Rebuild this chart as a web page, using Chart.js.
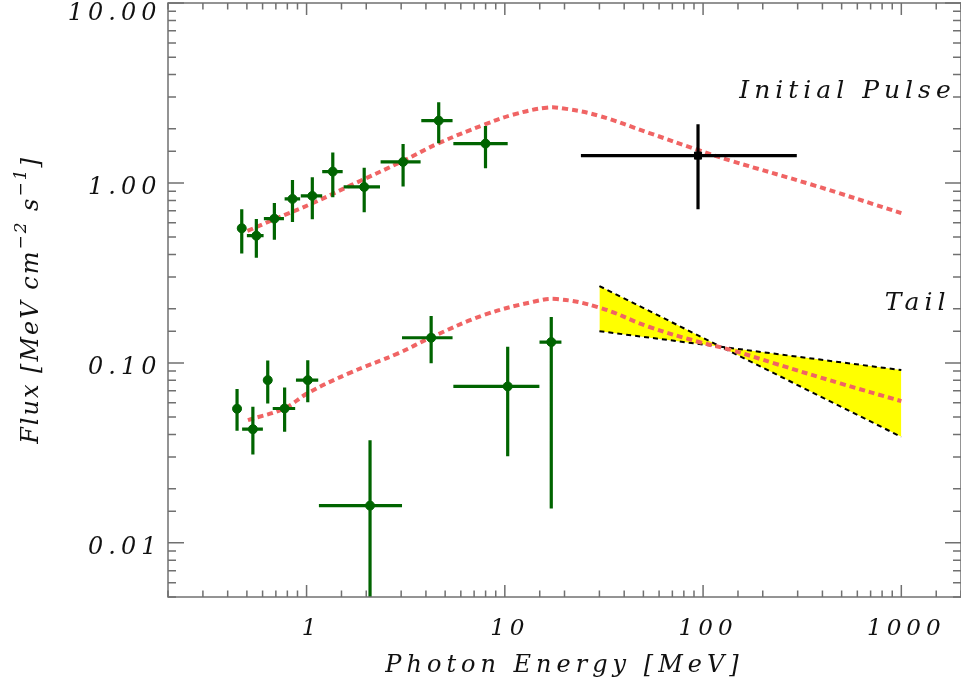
<!DOCTYPE html>
<html>
<head>
<meta charset="utf-8">
<script src="https://cdn.jsdelivr.net/npm/chart.js@4.4.0/dist/chart.umd.min.js"></script>
<style>
  html, body { margin: 0; padding: 0; background: #fff; }
  #wrap { width: 961px; height: 686px; }
</style>
</head>
<body>
<div id="wrap"><canvas id="fluxChart"></canvas></div>
<script>
// initial pulse measurements (green)
const pulseE      = [0.471, 0.558, 0.688, 0.849, 1.069, 1.356, 1.953, 3.068, 4.64, 7.99];
const pulseFlux   = [0.560, 0.509, 0.633, 0.815, 0.847, 1.156, 0.950, 1.309, 2.22, 1.654];
const pulseFluxLo = [0.406, 0.384, 0.484, 0.607, 0.628, 0.833, 0.687, 0.954, 1.663, 1.207];
const pulseFluxHi = [0.714, 0.631, 0.774, 1.039, 1.076, 1.474, 1.216, 1.648, 2.81, 2.075];
const pulseELo    = [null, 0.500, 0.609, 0.775, 0.935, 1.199, 1.538, 2.363, 3.79, 5.50];
const pulseEHi    = [null, 0.607, 0.769, 0.928, 1.199, 1.521, 2.346, 3.76, 5.45, 10.34];

// high energy point of the initial pulse (black)
const hePulseE = [94.3];
const hePulseFlux = [1.419];
const hePulseFluxLo = [0.714];
const hePulseFluxHi = [2.12];
const hePulseELo = [24.2];
const hePulseEHi = [297];

// tail measurements (green)
const tailE      = [0.446, 0.536, 0.637, 0.775, 1.014, 2.09, 4.25, 10.34, 17.15];
const tailFlux   = [0.0556, 0.0428, 0.0802, 0.0558, 0.0802, 0.0161, 0.1379, 0.074, 0.1305];
const tailFluxLo = [0.0419, 0.031, 0.0595, 0.0414, 0.0605, 0.001, 0.0994, 0.0303, 0.0155];
const tailFluxHi = [0.0715, 0.057, 0.103, 0.073, 0.1035, 0.0372, 0.182, 0.123, 0.18];
const tailELo    = [null, 0.473, null, 0.675, 0.884, 1.154, 3.03, 5.50, 14.96];
const tailEHi    = [null, 0.602, null, 0.876, 1.145, 3.03, 5.45, 14.94, 19.3];

// model curves (red dashed)
const pulseModelE    = [0.503, 0.688, 1.065, 1.687, 3.07, 4.64, 7.99, 11.08, 16.24, 20.44, 29.87, 53.1, 94.3, 138.9, 348.5, 1000];
const pulseModelFlux = [0.541, 0.628, 0.769, 0.975, 1.326, 1.663, 2.12, 2.40, 2.62, 2.58, 2.36, 1.90, 1.526, 1.326, 0.983, 0.68];
const tailModelE     = [0.506, 0.772, 1.009, 1.63, 2.896, 4.25, 7.85, 13.94, 18.22, 29.78, 53.25, 94.6, 138.9, 228.6, 492, 1000];
const tailModelFlux  = [0.0481, 0.0558, 0.0677, 0.0874, 0.113, 0.1386, 0.1845, 0.2187, 0.2263, 0.2035, 0.1588, 0.131, 0.1178, 0.0994, 0.0769, 0.0613];

// tail power-law uncertainty band (yellow)
const bandE     = [30, 123, 1000];
const bandUpper = [0.2674, 0.1229, 0.0912];
const bandLower = [0.150, 0.1229, 0.0388];

const xTickValues = [1, 10, 100, 1000];
const xTickLabels = ['1', '10', '100', '1000'];
const yTickValues = [0.01, 0.1, 1, 10];
const yTickLabels = ['0.01', '0.10', '1.00', '10.00'];

const xTitle = 'Photon Energy [MeV]';
const yTitleParts = [['Flux [MeV cm', false], ['\u22122', true], [' s', false], ['\u22121', true], [']', false]];
const curveLabels = [['Initial Pulse', 1880, 2.97], ['Tail', 1770, 0.1966]];

const FONT = "'DejaVu Serif', serif";
const SPACING = '5px';
const TEXT = '#111';
const GREEN = 'rgb(0,100,0)';
const RED = 'rgb(240,100,100)';
const AXIS = '#707070';

const pts = (xs, ys) => xs.map((v, i) => ({ x: v, y: ys[i] }));
const findTick = (vals, v) => vals.findIndex(t => Math.abs(Math.log10(v / t)) < 1e-6);
const isDecade = v => Math.abs(Math.log10(v) - Math.round(Math.log10(v))) < 1e-6;

const spacing = {
  id: 'spacing',
  beforeUpdate(chart) { chart.ctx.letterSpacing = SPACING; },
  beforeLayout(chart) { chart.ctx.letterSpacing = SPACING; },
  beforeDraw(chart) { chart.ctx.letterSpacing = SPACING; },
};

const errorBars = {
  id: 'errorBars',
  afterDatasetsDraw(chart) {
    const { ctx, chartArea: a, scales: { x, y } } = chart;
    ctx.save();
    ctx.beginPath();
    ctx.rect(a.left, a.top, a.right - a.left, a.bottom - a.top);
    ctx.clip();
    const draw = (E, F, lo, hi, eLo, eHi, color) => {
      ctx.strokeStyle = color;
      ctx.lineWidth = 3.2;
      ctx.beginPath();
      E.forEach((e, i) => {
        const px = x.getPixelForValue(e);
        const py = y.getPixelForValue(F[i]);
        ctx.moveTo(px, y.getPixelForValue(hi[i]));
        ctx.lineTo(px, y.getPixelForValue(lo[i]));
        if (eLo[i] !== null) {
          ctx.moveTo(x.getPixelForValue(eLo[i]), py);
          ctx.lineTo(x.getPixelForValue(eHi[i]), py);
        }
      });
      ctx.stroke();
    };
    draw(pulseE, pulseFlux, pulseFluxLo, pulseFluxHi, pulseELo, pulseEHi, GREEN);
    draw(tailE, tailFlux, tailFluxLo, tailFluxHi, tailELo, tailEHi, GREEN);
    draw(hePulseE, hePulseFlux, hePulseFluxLo, hePulseFluxHi, hePulseELo, hePulseEHi, '#000');
    ctx.restore();
  }
};

// box round the plot with inward ticks on all four sides
const frame = {
  id: 'frame',
  afterDraw(chart) {
    const { ctx, chartArea: a, scales: { x, y } } = chart;
    ctx.save();
    ctx.strokeStyle = AXIS;
    ctx.lineWidth = 1.5;
    ctx.strokeRect(a.left, a.top, a.right - a.left, a.bottom - a.top);
    ctx.beginPath();
    x.ticks.forEach(t => {
      const px = x.getPixelForValue(t.value);
      const len = isDecade(t.value) ? 12 : 6.5;
      ctx.moveTo(px, a.bottom); ctx.lineTo(px, a.bottom - len);
      ctx.moveTo(px, a.top); ctx.lineTo(px, a.top + len);
    });
    y.ticks.forEach(t => {
      const py = y.getPixelForValue(t.value);
      const len = isDecade(t.value) ? 16 : 8;
      ctx.moveTo(a.left, py); ctx.lineTo(a.left + len, py);
      ctx.moveTo(a.right, py); ctx.lineTo(a.right - len, py);
    });
    ctx.stroke();
    ctx.restore();
  }
};

const texts = {
  id: 'texts',
  afterDraw(chart) {
    const { ctx, chartArea: a, scales: { x, y } } = chart;
    ctx.save();
    ctx.fillStyle = TEXT;
    ctx.textBaseline = 'alphabetic';
    ctx.textAlign = 'right';
    ctx.font = 'italic 25px ' + FONT;
    curveLabels.forEach(([t, e, f]) => {
      ctx.fillText(t, x.getPixelForValue(e), y.getPixelForValue(f));
    });

    // y title with real superscripts
    const big = 'italic 24px ' + FONT;
    const small = 'italic 17px ' + FONT;
    ctx.letterSpacing = '2px';
    ctx.translate(38, (a.top + a.bottom) / 2);
    ctx.rotate(-Math.PI / 2);
    ctx.textAlign = 'left';
    let total = 0;
    yTitleParts.forEach(([t, sup]) => { ctx.font = sup ? small : big; total += ctx.measureText(t).width; });
    let cx = -total / 2;
    yTitleParts.forEach(([t, sup]) => {
      ctx.font = sup ? small : big;
      ctx.fillText(t, cx, sup ? -12 : 0);
      cx += ctx.measureText(t).width;
    });
    ctx.restore();
  }
};

new Chart(document.getElementById('fluxChart'), {
  type: 'line',
  data: {
    datasets: [
      {
        data: pts(hePulseE, hePulseFlux), showLine: false,
        pointStyle: 'rect', pointRadius: 5, backgroundColor: '#000', borderColor: '#000'
      },
      {
        data: pts(pulseE, pulseFlux), showLine: false,
        pointRadius: 4.5, backgroundColor: GREEN, borderColor: GREEN
      },
      {
        data: pts(tailE, tailFlux), showLine: false,
        pointRadius: 4.5, backgroundColor: GREEN, borderColor: GREEN
      },
      {
        data: pts(pulseModelE, pulseModelFlux), borderColor: RED, borderWidth: 4,
        borderDash: [6, 4], pointRadius: 0, tension: 0.4, fill: false
      },
      {
        data: pts(tailModelE, tailModelFlux), borderColor: RED, borderWidth: 4,
        borderDash: [6, 4], pointRadius: 0, tension: 0.4, fill: false
      },
      {
        data: pts(bandE, bandUpper), borderColor: '#000', borderWidth: 2,
        borderDash: [5, 4], pointRadius: 0, fill: false
      },
      {
        data: pts(bandE, bandLower), borderColor: '#000', borderWidth: 2,
        borderDash: [5, 4], pointRadius: 0, fill: '-1', backgroundColor: '#ffff00'
      }
    ]
  },
  options: {
    responsive: true,
    maintainAspectRatio: false,
    animation: false,
    layout: { padding: { top: 3, right: -8, left: 0, bottom: 0 }, autoPadding: false },
    plugins: { legend: { display: false }, tooltip: { enabled: false } },
    scales: {
      x: {
        type: 'logarithmic', min: 0.2, max: 2000,
        grid: { display: false, drawTicks: false },
        border: { display: false },
        ticks: {
          autoSkip: false, maxRotation: 0, minRotation: 0, padding: 18, labelOffset: 5,
          color: TEXT, font: { family: FONT, size: 23, style: 'italic' },
          callback: v => { const i = findTick(xTickValues, v); return i < 0 ? '' : xTickLabels[i]; }
        },
        title: {
          display: true, text: xTitle, color: TEXT, padding: { top: 0, bottom: 6 },
          font: { family: FONT, size: 24, style: 'italic' }
        },
        afterFit: s => { s.height = 89; s.paddingLeft = 0; s.paddingRight = 0; }
      },
      y: {
        type: 'logarithmic', min: 0.005, max: 10,
        grid: { display: false, drawTicks: false },
        border: { display: false },
        ticks: {
          autoSkip: false, padding: 6.5, labelOffset: 4.5, color: TEXT,
          // the top label sits a little lower so it is not cut by the window edge
          font: c => ({ family: FONT, size: 24, style: 'italic',
            lineHeight: c.tick && findTick(yTickValues, c.tick.value) === yTickValues.length - 1 ? '12px' : 1.2 }),
          callback: v => {
            const i = findTick(yTickValues, v);
            if (i < 0) return '';
            return i === yTickValues.length - 1 ? ['', yTickLabels[i]] : yTickLabels[i];
          }
        },
        afterFit: s => { s.width = 168; s.paddingTop = 0; s.paddingBottom = 0; }
      }
    }
  },
  plugins: [spacing, errorBars, frame, texts]
});
</script>
</body>
</html>
